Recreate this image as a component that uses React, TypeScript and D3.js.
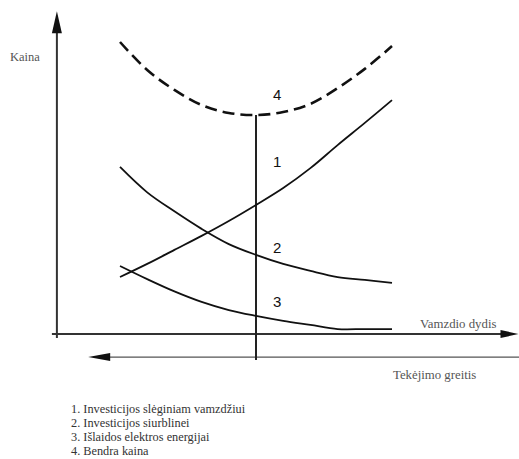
import React from "react";
import * as d3 from "d3";

const width = 519;
const height = 459;

// pipe size steps (arbitrary units)
const sizes = [0, 1, 2, 3, 4, 5, 6, 7, 8, 9, 10];

// cost values per curve (0..100 scale)
const pipeInvest = [19.5, 24.0, 28.8, 33.6, 38.7, 44.2, 50.0, 56.8, 64.7, 72.3, 80.1];
const pumpInvest = [57.2, 48.5, 42.0, 36.0, 30.8, 27.1, 24.0, 21.6, 19.5, 18.5, 17.5];
const energyCost = [23.3, 18.8, 14.6, 11.0, 8.2, 6.2, 4.5, 3.1, 1.7, 1.7, 1.7];
const totalCost = [100, 90.4, 83.6, 78.4, 75.7, 75.0, 76.0, 78.8, 84.2, 90.8, 98.6];

const curveLabels = ["1", "2", "3", "4"];
const curveLabelY = [58.9, 29.5, 11.0, 81.8];
const optimum = 5;

const legend = [
  "1. Investicijos slėginiam vamzdžiui",
  "2. Investicijos siurblinei",
  "3. Išlaidos elektros energijai",
  "4. Bendra kaina",
];

const x = d3.scaleLinear().domain([0, 10]).range([120, 392]);
const y = d3.scaleLinear().domain([0, 100]).range([334, 42]);

const line = d3
  .line<number>()
  .x((_, i) => x(sizes[i]))
  .y((d) => y(d))
  .curve(d3.curveCatmullRom.alpha(0.5));

const serif = "Liberation Serif, Times New Roman, serif";

const App = () => {
  const x0 = x(-2.32);
  const xEnd = x(14.65);
  const yAxis = y(0);
  const yTop = y(110.5);
  const ySpeed = y(-7.9);
  const xSpeedStart = x(-1.17);

  return (
    <svg
      width={width}
      height={height}
      style={{ position: "absolute", left: 0, top: 0, background: "#fff" }}
    >
      {/* cost axis */}
      <line x1={x0} x2={x0} y1={yTop + 18} y2={yAxis + 4} stroke="#333" strokeWidth={2} />
      <path d={`M${x0},${yTop} L${x0 - 5},${yTop + 22} L${x0 + 5},${yTop + 22} Z`} fill="#111" />
      <text x={10} y={61} fontFamily={serif} fontSize={12.5} fill="#555">
        Kaina
      </text>

      {/* pipe size axis */}
      <line x1={x0 - 5} x2={xEnd - 14} y1={yAxis} y2={yAxis} stroke="#333" strokeWidth={2} />
      <path d={`M${xEnd},${yAxis} L${xEnd - 18},${yAxis - 4} L${xEnd - 18},${yAxis + 4} Z`} fill="#111" />
      <text x={420} y={328} fontFamily={serif} fontSize={12.8} fill="#555">
        Vamzdio dydis
      </text>

      {/* flow speed axis */}
      <line x1={xSpeedStart + 18} x2={width} y1={ySpeed} y2={ySpeed} stroke="#555" strokeWidth={1.3} />
      <path
        d={`M${xSpeedStart},${ySpeed} L${xSpeedStart + 22},${ySpeed - 4} L${xSpeedStart + 22},${ySpeed + 4} Z`}
        fill="#111"
      />
      <text x={393} y={379} fontFamily={serif} fontSize={12.8} fill="#555">
        Tekėjimo greitis
      </text>

      {/* optimum line */}
      <line
        x1={x(optimum)}
        x2={x(optimum)}
        y1={y(totalCost[optimum])}
        y2={y(-8.9)}
        stroke="#222"
        strokeWidth={2}
      />

      {/* curves */}
      {[pipeInvest, pumpInvest, energyCost].map((s, i) => (
        <path key={i} d={line(s) ?? ""} fill="none" stroke="#111" strokeWidth={1.8} />
      ))}
      <path
        d={line(totalCost) ?? ""}
        fill="none"
        stroke="#111"
        strokeWidth={2.6}
        strokeDasharray="12 6"
      />

      {curveLabels.map((l, i) => (
        <text
          key={l}
          x={x(5.78)}
          y={y(curveLabelY[i])}
          dy="0.35em"
          textAnchor="middle"
          fontFamily="Liberation Sans, Arial, sans-serif"
          fontSize={15}
          fill="#111"
        >
          {l}
        </text>
      ))}

      {legend.map((t, i) => (
        <text key={t} x={71} y={413 + i * 14} fontFamily={serif} fontSize={12.3} fill="#333">
          {t}
        </text>
      ))}
    </svg>
  );
};

export default App;
